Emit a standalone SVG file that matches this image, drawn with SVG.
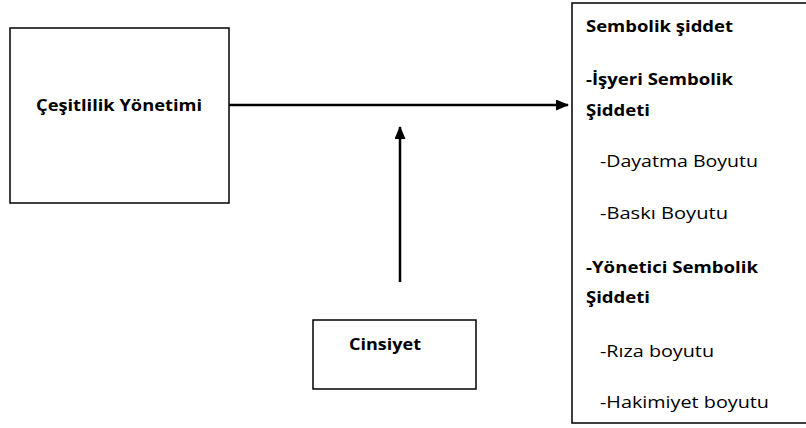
<svg xmlns="http://www.w3.org/2000/svg" width="806" height="428" viewBox="0 0 806 428">
<style>
.box{fill:#fff;stroke:#000;stroke-width:1.5}
.b{font-family:"Open Sans","Liberation Sans",Arial,sans-serif;font-weight:bold;font-size:16px;fill:#000}
.r{font-family:"Open Sans","Liberation Sans",Arial,sans-serif;font-size:16px;fill:#000}
.ln{stroke:#000;stroke-width:2.5;fill:none}
</style>
<defs>
<marker id="ah" markerWidth="13" markerHeight="11" refX="12" refY="5.5" orient="auto" markerUnits="userSpaceOnUse">
<path d="M0,0 L13,5.5 L0,11 Z" fill="#000"/>
</marker>
</defs>
<rect width="806" height="428" fill="#fff"/>
<g id="node-cesitlilik">
<rect class="box" x="10" y="28" width="219" height="175"/>
<text class="b" x="36" y="111" textLength="166" lengthAdjust="spacingAndGlyphs">Çeşitlilik Yönetimi</text>
</g>
<g id="node-cinsiyet">
<rect class="box" x="313" y="320" width="163" height="69"/>
<text class="b" x="349" y="350" textLength="72" lengthAdjust="spacingAndGlyphs">Cinsiyet</text>
</g>
<g id="node-sembolik">
<rect class="box" x="572" y="3" width="240" height="420"/>
<text class="b" x="586" y="32" textLength="147" lengthAdjust="spacingAndGlyphs">Sembolik şiddet</text>
<text class="b" x="586" y="85" textLength="147" lengthAdjust="spacingAndGlyphs">-İşyeri Sembolik</text>
<text class="b" x="586" y="116" textLength="64" lengthAdjust="spacingAndGlyphs">Şiddeti</text>
<text class="r" x="600" y="167" textLength="158" lengthAdjust="spacingAndGlyphs">-Dayatma Boyutu</text>
<text class="r" x="600" y="219" textLength="128" lengthAdjust="spacingAndGlyphs">-Baskı Boyutu</text>
<text class="b" x="586" y="273" textLength="172" lengthAdjust="spacingAndGlyphs">-Yönetici Sembolik</text>
<text class="b" x="586" y="303" textLength="64" lengthAdjust="spacingAndGlyphs">Şiddeti</text>
<text class="r" x="600" y="357" textLength="114" lengthAdjust="spacingAndGlyphs">-Rıza boyutu</text>
<text class="r" x="600" y="408" textLength="169" lengthAdjust="spacingAndGlyphs">-Hakimiyet boyutu</text>
</g>
<g id="connectors">
<line class="ln" x1="229" y1="105" x2="568" y2="105" marker-end="url(#ah)"/>
<line class="ln" x1="400" y1="282" x2="400" y2="127" marker-end="url(#ah)"/>
</g>
</svg>
